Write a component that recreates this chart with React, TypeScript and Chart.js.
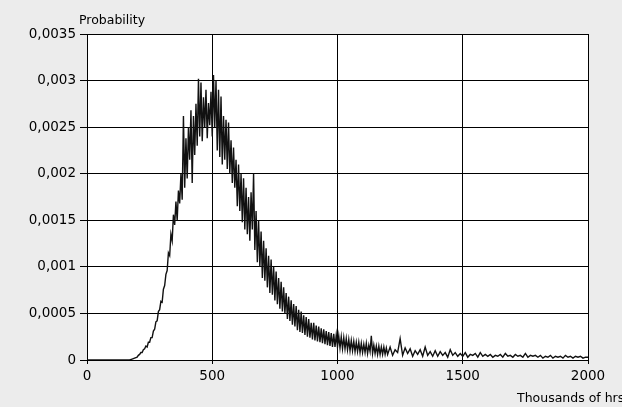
import React, { useEffect, useRef } from "react";
import { Chart, registerables } from "chart.js";

Chart.register(...registerables);

// Thousands of hours (x positions of the density samples)
const hours = [
  0, 10, 20, 30, 40, 50, 60, 70, 80, 90, 100, 110, 120, 130, 140, 150, 160, 170, 180, 190,
  200, 205, 210, 215, 220, 225, 230, 235, 240, 245, 250, 255, 260, 265, 270, 275, 280, 285, 290, 295,
  300, 305, 310, 315, 320, 325, 330, 335, 340, 345, 350, 355, 360, 365, 370, 375, 380, 385, 390, 395,
  400, 405, 410, 415, 420, 425, 430, 435, 440, 445, 450, 455, 460, 465, 470, 475, 480, 485, 490, 495,
  500, 505, 510, 515, 520, 525, 530, 535, 540, 545, 550, 555, 560, 565, 570, 575, 580, 585, 590, 595,
  600, 605, 610, 615, 620, 625, 630, 635, 640, 645, 650, 655, 660, 665, 670, 675, 680, 685, 690, 695,
  700, 705, 710, 715, 720, 725, 730, 735, 740, 745, 750, 755, 760, 765, 770, 775, 780, 785, 790, 795,
  800, 805, 810, 815, 820, 825, 830, 835, 840, 845, 850, 855, 860, 865, 870, 875, 880, 885, 890, 895,
  900, 905, 910, 915, 920, 925, 930, 935, 940, 945, 950, 955, 960, 965, 970, 975, 980, 985, 990, 995,
  1000, 1005, 1010, 1015, 1020, 1025, 1030, 1035, 1040, 1045, 1050, 1055, 1060, 1065, 1070, 1075, 1080, 1085, 1090, 1095,
  1100, 1105, 1110, 1115, 1120, 1125, 1130, 1135, 1140, 1145, 1150, 1155, 1160, 1165, 1170, 1175, 1180, 1185, 1190, 1195,
  1200, 1210, 1220, 1230, 1240, 1250, 1260, 1270, 1280, 1290, 1300, 1310, 1320, 1330, 1340, 1350, 1360, 1370, 1380, 1390,
  1400, 1410, 1420, 1430, 1440, 1450, 1460, 1470, 1480, 1490, 1500, 1510, 1520, 1530, 1540, 1550, 1560, 1570, 1580, 1590,
  1600, 1610, 1620, 1630, 1640, 1650, 1660, 1670, 1680, 1690, 1700, 1710, 1720, 1730, 1740, 1750, 1760, 1770, 1780, 1790,
  1800, 1810, 1820, 1830, 1840, 1850, 1860, 1870, 1880, 1890, 1900, 1910, 1920, 1930, 1940, 1950, 1960, 1970, 1980, 1990,
  2000,
];

// Probability density
const probability = [
  0, 0, 0, 0, 0, 0, 0, 0, 0, 0, 0, 0, 0, 0, 0, 0, 0, 0, 1e-5, 2e-5,
  3e-5, 5e-5, 6e-5, 8e-5, 8e-5, 11e-5, 12e-5, 15e-5, 14e-5, 19e-5, 19e-5, 24e-5, 24e-5, 31e-5, 33e-5, 41e-5, 42e-5, 52e-5, 54e-5, 63e-5,
  62e-5, 76e-5, 80e-5, 92e-5, 96e-5, 115e-5, 112e-5, 135e-5, 128e-5, 156e-5, 145e-5, 170e-5, 150e-5, 182e-5, 168e-5, 200e-5, 172e-5, 262e-5, 185e-5, 238e-5,
  195e-5, 250e-5, 215e-5, 268e-5, 190e-5, 262e-5, 220e-5, 275e-5, 230e-5, 302e-5, 240e-5, 298e-5, 235e-5, 282e-5, 250e-5, 290e-5, 238e-5, 276e-5, 252e-5, 288e-5,
  240e-5, 306e-5, 250e-5, 300e-5, 225e-5, 290e-5, 218e-5, 283e-5, 210e-5, 262e-5, 215e-5, 258e-5, 205e-5, 255e-5, 200e-5, 236e-5, 190e-5, 228e-5, 185e-5, 215e-5,
  165e-5, 210e-5, 160e-5, 200e-5, 148e-5, 195e-5, 140e-5, 185e-5, 135e-5, 175e-5, 128e-5, 180e-5, 140e-5, 200e-5, 118e-5, 160e-5, 105e-5, 150e-5, 100e-5, 138e-5,
  88e-5, 128e-5, 85e-5, 120e-5, 78e-5, 112e-5, 72e-5, 108e-5, 70e-5, 100e-5, 64e-5, 95e-5, 60e-5, 88e-5, 55e-5, 84e-5, 52e-5, 78e-5, 50e-5, 72e-5,
  44e-5, 68e-5, 42e-5, 64e-5, 38e-5, 60e-5, 36e-5, 58e-5, 32e-5, 54e-5, 30e-5, 52e-5, 29e-5, 48e-5, 27e-5, 46e-5, 25e-5, 44e-5, 24e-5, 40e-5,
  22e-5, 40e-5, 21e-5, 37e-5, 20e-5, 36e-5, 19e-5, 34e-5, 18e-5, 33e-5, 17e-5, 31e-5, 16e-5, 30e-5, 15e-5, 29e-5, 14e-5, 28e-5, 14e-5, 27e-5,
  14e-5, 26e-5, 13e-5, 25e-5, 12e-5, 24e-5, 12e-5, 23e-5, 11e-5, 22e-5, 10e-5, 21e-5, 10e-5, 20e-5, 9e-5, 19e-5, 9e-5, 19e-5, 8e-5, 18e-5,
  8e-5, 17e-5, 8e-5, 18e-5, 7e-5, 16e-5, 9e-5, 26e-5, 7e-5, 16e-5, 7e-5, 15e-5, 6e-5, 15e-5, 6e-5, 14e-5, 6e-5, 14e-5, 6e-5, 13e-5,
  6e-5, 14e-5, 5e-5, 11e-5, 8e-5, 23e-5, 5e-5, 13e-5, 7e-5, 12e-5, 4e-5, 10e-5, 6e-5, 11e-5, 4e-5, 14e-5, 5e-5, 9e-5, 4e-5, 10e-5,
  4e-5, 9e-5, 5e-5, 8e-5, 3e-5, 11e-5, 5e-5, 8e-5, 4e-5, 7e-5, 4e-5, 8e-5, 3e-5, 6e-5, 5e-5, 7e-5, 3e-5, 8e-5, 4e-5, 6e-5,
  4e-5, 6e-5, 3e-5, 5e-5, 4e-5, 6e-5, 3e-5, 7e-5, 4e-5, 5e-5, 3e-5, 6e-5, 4e-5, 5e-5, 3e-5, 7e-5, 3e-5, 5e-5, 4e-5, 5e-5,
  3e-5, 5e-5, 2e-5, 4e-5, 3e-5, 5e-5, 2e-5, 4e-5, 3e-5, 4e-5, 2e-5, 5e-5, 3e-5, 4e-5, 2e-5, 4e-5, 3e-5, 4e-5, 2e-5, 3e-5,
  3e-5,
];

const yTickValues = [0, 0.0005, 0.001, 0.0015, 0.002, 0.0025, 0.003, 0.0035];
const yTickLabels = ["0", "0,0005", "0,001", "0,0015", "0,002", "0,0025", "0,003", "0,0035"];
const xTickValues = [0, 500, 1000, 1500, 2000];
const xTickLabels = ["0", "500", "1000", "1500", "2000"];
const yAxisTitle = "Probability";
const xAxisTitle = "Thousands of hrs";

const PAGE_BG = "#ececec";
const FONT = "DejaVu Sans";

export default function App() {
  const ref = useRef<HTMLCanvasElement | null>(null);

  useEffect(() => {
    document.body.style.margin = "0";
    const canvas = ref.current;
    if (!canvas) return;

    const deco = {
      id: "deco",
      beforeDraw(chart: any) {
        const { ctx, chartArea: a } = chart;
        ctx.save();
        ctx.fillStyle = PAGE_BG;
        ctx.fillRect(0, 0, chart.width, chart.height);
        ctx.fillStyle = "#ffffff";
        ctx.fillRect(a.left, a.top, a.right - a.left, a.bottom - a.top);
        ctx.restore();
      },
      afterDraw(chart: any) {
        const { ctx } = chart;
        ctx.save();
        ctx.fillStyle = "#000";
        ctx.font = `12.5px "${FONT}"`;
        ctx.textBaseline = "alphabetic";
        ctx.textAlign = "left";
        ctx.fillText(yAxisTitle, 79, 24);
        ctx.fillText(xAxisTitle, 517, 402);
        ctx.restore();
      },
    };

    const chart = new Chart(canvas, {
      type: "line",
      data: {
        datasets: [
          {
            data: hours.map((h, i) => ({ x: h, y: probability[i] })),
            borderColor: "#111111",
            borderWidth: 1.4,
            pointRadius: 0,
            tension: 0,
            fill: false,
          },
        ],
      },
      plugins: [deco],
      options: {
        animation: false,
        responsive: false,
        devicePixelRatio: 1,
        layout: { padding: { top: 34, right: 34, left: 0, bottom: 0 } },
        plugins: { legend: { display: false }, tooltip: { enabled: false } },
        scales: {
          x: {
            type: "linear",
            min: 0,
            max: 2000,
            afterBuildTicks: (s: any) => {
              s.ticks = xTickValues.map((v) => ({ value: v }));
            },
            afterFit: (s: any) => {
              s.height = 47;
            },
            ticks: {
              color: "#000",
              font: { family: FONT, size: 13.5 },
              padding: 4,
              maxRotation: 0,
              autoSkip: false,
              callback: (_v: any, i: number) => xTickLabels[i],
            },
            grid: { color: "#000", lineWidth: 1, tickLength: 4, drawTicks: true },
            border: { color: "#000" },
          },
          y: {
            type: "linear",
            min: 0,
            max: 0.0035,
            afterBuildTicks: (s: any) => {
              s.ticks = yTickValues.map((v) => ({ value: v }));
            },
            afterFit: (s: any) => {
              s.width = 87;
            },
            ticks: {
              color: "#000",
              font: { family: FONT, size: 13.5 },
              padding: 4,
              autoSkip: false,
              callback: (_v: any, i: number) => yTickLabels[i],
            },
            grid: { color: "#000", lineWidth: 1, tickLength: 7, drawTicks: true },
            border: { color: "#000" },
          },
        },
      },
    });
    return () => chart.destroy();
  }, []);

  return (
    <div style={{ width: 622, height: 407, background: PAGE_BG }}>
      <canvas ref={ref} width={622} height={407} style={{ display: "block", width: 622, height: 407 }} />
    </div>
  );
}
